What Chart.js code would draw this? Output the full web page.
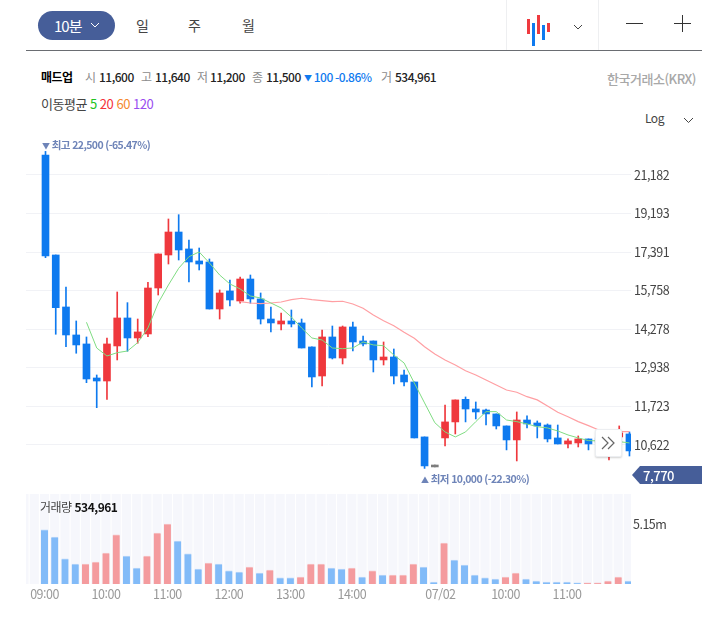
<!DOCTYPE html>
<html lang="ko">
<head>
<meta charset="utf-8">
<title>매드업</title>
<script src="https://cdn.jsdelivr.net/npm/chart.js@4"></script>
<style>
    html, body { margin: 0; padding: 0; background: #fff; }
    body { width: 702px; height: 630px; position: relative; overflow: hidden; font-family: "Noto Sans CJK KR", "Noto Sans", sans-serif; letter-spacing: -0.5px; }
    .abs { position: absolute; white-space: nowrap; line-height: 1; }
    canvas { position: absolute; left: 0; display: block; }
    #priceChart { top: 135px; }
    #volumeChart { top: 494px; }
    .gray { color: #8c8c8c; }
    .ink { color: #222; font-weight: 500; }
    .mark { color: #6e84b8; font-size: 10.5px; font-weight: 700; letter-spacing: -0.6px; }
</style>
</head>
<body>
<canvas id="priceChart" width="702" height="355"></canvas>
<canvas id="volumeChart" width="702" height="116"></canvas>

<!-- top toolbar -->
<div class="abs" style="left:38px;top:11px;width:77px;height:29px;background:#465e99;border-radius:15px"></div>
<div class="abs" style="left:54px;top:18px;color:#fff;font-size:15px;letter-spacing:-1px">10분</div>
<svg class="abs" style="left:90px;top:22px" width="10" height="6"><polyline points="1,1 5,5 9,1" fill="none" stroke="#fff" stroke-width="1"/></svg>
<div class="abs" style="left:136px;top:18px;color:#444;font-size:14px">일</div>
<div class="abs" style="left:188px;top:18px;color:#444;font-size:14px">주</div>
<div class="abs" style="left:242px;top:18px;color:#444;font-size:14px">월</div>
<div class="abs" style="left:26px;top:50px;width:676px;height:1px;background:#6a6d72"></div>
<div class="abs" style="left:506px;top:0;width:1px;height:50px;background:#eeeff1"></div>
<div class="abs" style="left:598px;top:0;width:1px;height:50px;background:#eeeff1"></div>
<svg class="abs" style="left:525px;top:12px" width="28" height="36">
    <rect x="2" y="7" width="3" height="15" fill="#ef3a3f"/>
    <rect x="7" y="11" width="3" height="23" fill="#0f7aef"/>
    <rect x="12" y="3" width="3" height="19" fill="#ef3a3f"/>
    <rect x="17" y="13" width="3" height="15" fill="#0f7aef"/>
    <rect x="22" y="11" width="3" height="9" fill="#ef3a3f"/>
</svg>
<svg class="abs" style="left:573px;top:24px" width="10" height="6"><polyline points="1,1 5,5 9,1" fill="none" stroke="#444" stroke-width="1"/></svg>
<div class="abs" style="left:626px;top:23px;width:17px;height:1px;background:#333"></div>
<div class="abs" style="left:674px;top:23px;width:17px;height:1px;background:#333"></div>
<div class="abs" style="left:682px;top:15px;width:1px;height:17px;background:#333"></div>

<!-- quote line -->
<div class="abs" style="left:41px;top:71px;font-size:12px;color:#000;font-weight:700">매드업</div>
<div class="abs quote gray" style="left:85px;top:71px;font-size:12px">시</div>
<div class="abs ink" style="left:99px;top:71px;font-size:12px">11,600</div>
<div class="abs quote gray" style="left:141px;top:71px;font-size:12px">고</div>
<div class="abs ink" style="left:155px;top:71px;font-size:12px">11,640</div>
<div class="abs quote gray" style="left:197px;top:71px;font-size:12px">저</div>
<div class="abs ink" style="left:210px;top:71px;font-size:12px">11,200</div>
<div class="abs quote gray" style="left:252px;top:71px;font-size:12px">종</div>
<div class="abs ink" style="left:266px;top:71px;font-size:12px">11,500</div>
<div class="abs" style="left:304px;top:71px;font-size:12px;color:#0f7aef;font-weight:500"><span style="font-size:8px;vertical-align:1px">▼</span> 100 -0.86%</div>
<div class="abs quote gray" style="left:381px;top:71px;font-size:12px">거</div>
<div class="abs ink" style="left:395px;top:71px;font-size:12px">534,961</div>
<div class="abs" style="right:6px;top:72px;font-size:13px;color:#a8a8a8;font-weight:500">한국거래소(KRX)</div>
<div class="abs" style="left:41px;top:97px;font-size:13px;color:#444">이동평균 <span style="color:#22c322">5</span> <span style="color:#f5323c">20</span> <span style="color:#f5892d">60</span> <span style="color:#9a4df0">120</span></div>
<div class="abs" style="left:645px;top:112px;font-size:12px;color:#444">Log</div>
<svg class="abs" style="left:683px;top:117px" width="11" height="7"><polyline points="1,1 5.5,5.5 10,1" fill="none" stroke="#444" stroke-width="1"/></svg>

<div class="abs mark" style="left:42px;top:140px"><span style="font-size:8px">▼</span> 최고 22,500 (-65.47%)</div>
<div class="abs mark" style="left:421px;top:474px"><span style="font-size:8px">▲</span> 최저 10,000 (-22.30%)</div>
<div class="abs" style="left:40px;top:501px;font-size:12px;color:#444">거래량 <span style="color:#111;font-weight:700">534,961</span></div>

<!-- current price tag and scroll button -->
<div class="abs" style="left:632px;top:466px;width:70px;height:18px;background:#465e99;clip-path:polygon(0 50%,8px 0,100% 0,100% 100%,8px 100%)"></div>
<div class="abs" style="left:643px;top:469px;font-size:13px;color:#fff;font-weight:500">7,770</div>
<div class="abs" style="left:595px;top:429px;width:25px;height:26px;background:#fff;border:1px solid #eceef1;box-shadow:0 1px 2px rgba(0,0,0,.18);border-radius:2px"></div>
<svg class="abs" style="left:600px;top:436px" width="16" height="14"><polyline points="2,1 8,7 2,13" fill="none" stroke="#666" stroke-width="1.2"/><polyline points="8,1 14,7 8,13" fill="none" stroke="#666" stroke-width="1.2"/></svg>

<script>
// price data, one entry per 10 minute slot
const highs = [22500, 17263, 15905, 14582, 13997, 12700, 13961, 15704, 15281, 14655, 16098, 17308, 18928, 19137, 17939, 17574, 17087, 15785, 16194, 16318, 16401, 15664, 15113, 14883, 14997, 14655, 13644, 14249, 14395, 14395, 14544, 14033, 13855, 13819, 13573, 12864, 12476, 10839, 10088, 11762, 11915, 12006, 11853, 11642, 11496, 11148, 11554, 11437, 11291, 11205, 11175, 10783, 10866, 10783, 11034, 10978, 11148, 10978];
const opens = [22294, 17263, 15113, 14069, 13749, 12603, 12506, 13679, 14694, 13961, 14105, 15865, 17263, 18308, 17531, 17001, 16956, 15035, 15745, 15346, 16234, 15427, 14655, 14469, 14582, 14508, 13644, 12667, 13997, 13264, 14360, 13855, 13855, 13198, 13298, 12700, 12476, 10839, 10088, 10811, 11263, 11934, 11642, 11612, 11496, 11148, 10756, 11319, 11233, 11175, 10811, 10646, 10673, 10783, 10811, 10619, 10839, 10922];
const closes = [17217, 15086, 14069, 13714, 12571, 12506, 13749, 14694, 13961, 14178, 15865, 17308, 18308, 17485, 16956, 16869, 15035, 15664, 15386, 16234, 15427, 14655, 14508, 14582, 14469, 13608, 12636, 13997, 13264, 14360, 13819, 13749, 13198, 13298, 12667, 12476, 10811, 10064, 10038, 11263, 11915, 11642, 11554, 11496, 11148, 10756, 11319, 11205, 11148, 10783, 10646, 10729, 10783, 10646, 10673, 10729, 10951, 10458];
const lows = [17145, 14094, 13654, 13426, 12453, 11682, 11934, 13198, 13493, 13775, 14007, 15583, 16869, 17043, 16111, 16613, 15035, 14655, 15151, 15257, 15257, 14469, 14178, 14249, 14360, 13608, 12317, 12349, 13231, 13063, 13504, 13679, 12798, 13029, 12413, 12349, 10811, 10000, 10038, 10591, 10922, 11263, 11349, 11175, 11062, 10485, 10193, 11091, 10811, 10701, 10646, 10538, 10564, 10485, 10323, 10220, 10756, 10323];
const flatSlots = [38];

// moving averages, first slot of each given below
const ma5Start = 4;
const ma5 = [14533, 13608, 13332, 13446, 13504, 13796, 14323, 15268, 15988, 16685, 17187, 17397, 16914, 16401, 16029, 15825, 15544, 15465, 15268, 15075, 14730, 14323, 13961, 13889, 13608, 13584, 13608, 13819, 13714, 13688, 13366, 13097, 12442, 11824, 11241, 10978, 10839, 10978, 11271, 11563, 11563, 11319, 11271, 11205, 11127, 11091, 11006, 10894, 10811, 10737, 10729, 10729, 10710, 10673];
const ma20Start = 19;
const ma20 = [15319, 15268, 15240, 15268, 15306, 15397, 15454, 15397, 15359, 15319, 15336, 15230, 15064, 14806, 14592, 14408, 14167, 13950, 13654, 13402, 13198, 13029, 12840, 12700, 12540, 12379, 12222, 12150, 12014, 11915, 11733, 11544, 11415, 11271, 11156, 11034, 11006, 10987, 10987];

// volume in millions, and whether the bar is drawn red
const volumes = [4.64, 4.03, 2.15, 1.72, 1.72, 1.89, 2.66, 4.21, 2.40, 1.37, 2.40, 4.38, 5.15, 3.69, 2.58, 1.29, 1.80, 1.72, 1.12, 1.03, 1.46, 0.94, 1.20, 0.52, 0.52, 0.60, 1.72, 1.72, 1.37, 1.29, 1.37, 0.60, 1.12, 0.77, 0.77, 0.77, 1.72, 1.46, 0.17, 3.52, 2.06, 1.63, 0.77, 0.52, 0.43, 0.60, 0.94, 0.43, 0.26, 0.17, 0.17, 0.17, 0.09, 0.09, 0.09, 0.26, 0.60, 0.26];
const volumeUp = [0, 0, 0, 0, 1, 1, 1, 1, 0, 0, 1, 1, 1, 0, 0, 0, 1, 0, 0, 0, 1, 0, 1, 0, 0, 1, 1, 1, 0, 0, 1, 0, 1, 0, 1, 1, 1, 0, 0, 1, 0, 0, 0, 0, 0, 1, 1, 0, 0, 0, 0, 0, 0, 1, 1, 1, 1, 0];

// axis labels
const priceTicks = [21182, 19193, 17391, 15758, 14278, 12938, 11723, 10622];
const volumeTicks = [5.15];
const timeTickSlots = [0, 6, 12, 18, 24, 30, 38.65, 45, 51];
const timeTickLabels = ['09:00', '10:00', '11:00', '12:00', '13:00', '14:00', '07/02', '10:00', '11:00'];

const RED = '#ef383d';
const BLUE = '#0e7aef';
const PRICE_MIN = 9463;
const PRICE_MAX = 23464;
const FONT = '"Noto Sans CJK KR", "Noto Sans", sans-serif';

function candleColor(i) {
    if (flatSlots.includes(i)) return '#7d7d7d';
    return closes[i] >= opens[i] ? RED : BLUE;
}

// candles sit about a pixel right of the volume bars, hence two slot ranges
function slotAxis(display, min, max) {
    return {
        type: 'linear',
        display: display,
        offset: false,
        min: min,
        max: max,
        border: { display: false },
        grid: { display: false, drawTicks: false, offset: false }
    };
}

// right hand axis, fixed width and no room reserved for its labels
function fitRightAxis(axis) {
    axis.width = 71;
    axis.paddingTop = 0;
    axis.paddingBottom = 0;
}

function initPriceChart() {
    const wicks = highs.map((h, i) => ({ x: i, y: [lows[i], h] }));
    const bodies = opens.map((o, i) => ({ x: i, y: [closes[i], o] }));
    const colors = opens.map((o, i) => candleColor(i));

    new Chart(document.getElementById('priceChart'), {
        data: {
            datasets: [
                { type: 'line', data: ma5.map((v, i) => ({ x: i + ma5Start, y: v })), borderColor: '#7fdc82', borderWidth: 1, pointRadius: 0, order: 1 },
                { type: 'line', data: ma20.map((v, i) => ({ x: i + ma20Start, y: v })), borderColor: '#ff9fa3', borderWidth: 1.2, pointRadius: 0, order: 1 },
                { type: 'bar', data: bodies, backgroundColor: colors, barThickness: 7, grouped: false, order: 2 },
                { type: 'bar', data: wicks, backgroundColor: colors, barThickness: 1, grouped: false, order: 3 }
            ]
        },
        options: {
            responsive: false,
            animation: false,
            layout: { autoPadding: false, padding: { left: 26, right: 0, top: 0, bottom: 0 } },
            plugins: { legend: { display: false }, tooltip: { enabled: false } },
            scales: {
                x: slotAxis(false, -1.903, 57.15),
                y: {
                    type: 'logarithmic',
                    position: 'right',
                    bounds: 'data',
                    min: PRICE_MIN,
                    max: PRICE_MAX,
                    border: { display: false },
                    grid: { color: '#f1f2f6', lineWidth: 1, drawTicks: false },
                    afterBuildTicks(axis) {
                        axis.ticks = priceTicks.map(v => ({ value: v }));
                        axis.min = PRICE_MIN;
                        axis.max = PRICE_MAX;
                    },
                    afterFit: fitRightAxis,
                    ticks: {
                        padding: 3,
                        autoSkip: false,
                        color: '#444',
                        font: { family: FONT, size: 12.5 },
                        callback: v => Number(v).toLocaleString('en-US')
                    }
                }
            }
        }
    });
}

function initVolumeChart() {
    const stripeTop = 7.725;
    const stripes = [];
    for (let i = -2; i < volumes.length; i++) stripes.push({ x: i, y: stripeTop });

    new Chart(document.getElementById('volumeChart'), {
        data: {
            datasets: [
                {
                    type: 'bar',
                    data: volumes.map((v, i) => ({ x: i, y: v })),
                    backgroundColor: volumeUp.map(u => u ? '#f49b9e' : '#82bbf8'),
                    borderColor: volumeUp.map(u => u ? '#f7c3c5' : '#b7d6fa'),
                    borderWidth: { top: 1, left: 0, right: 0, bottom: 0 },
                    barThickness: 7,
                    grouped: false,
                    order: 1
                },
                { type: 'bar', data: stripes, backgroundColor: '#f6f7fc', barThickness: 8.5, grouped: false, order: 2 }
            ]
        },
        options: {
            responsive: false,
            animation: false,
            layout: { autoPadding: false, padding: { left: 26, right: 0, top: 0, bottom: 0 } },
            plugins: { legend: { display: false }, tooltip: { enabled: false } },
            scales: {
                x: {
                    ...slotAxis(true, -1.806, 57.25),
                    afterBuildTicks(axis) { axis.ticks = timeTickSlots.map(v => ({ value: v })); },
                    afterFit(axis) { axis.height = 26; axis.paddingLeft = 0; axis.paddingRight = 0; },
                    ticks: {
                        padding: 3,
                        autoSkip: false,
                        maxRotation: 0,
                        color: '#999',
                        font: { family: FONT, size: 12.5 },
                        callback: (v, i) => timeTickLabels[i]
                    }
                },
                y: {
                    position: 'right',
                    min: 0,
                    max: 7.725,
                    border: { display: false },
                    grid: { display: false, drawTicks: false },
                    afterBuildTicks(axis) { axis.ticks = volumeTicks.map(v => ({ value: v })); },
                    afterFit: fitRightAxis,
                    ticks: {
                        padding: 2,
                        color: '#444',
                        font: { family: FONT, size: 12.5 },
                        callback: v => v + 'm'
                    }
                }
            }
        }
    });
}

initPriceChart();
initVolumeChart();
</script>
</body>
</html>
